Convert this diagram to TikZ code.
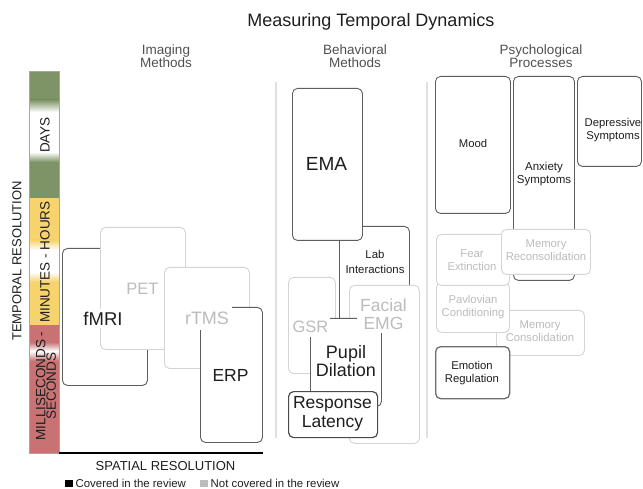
\documentclass[tikz,border=0pt]{standalone}
\usepackage{fontspec}
\setmainfont{Liberation Sans}
\usepackage{tikz}
\usetikzlibrary{positioning}
\usepackage{xcolor}

\definecolor{textdark}{HTML}{1E1E1E}
\definecolor{headgray}{HTML}{505050}
\definecolor{lighttext}{HTML}{BCBCBC}
\definecolor{boxdark}{HTML}{5E5E5E}
\definecolor{boxlight}{HTML}{D4D4D4}
\definecolor{sepline}{HTML}{E0E0E0}
\definecolor{bargreen}{HTML}{7F9466}
\definecolor{baryellow}{HTML}{F7D36E}
\definecolor{barred}{HTML}{C87273}

\newcommand{\setsize}[2]{\fontsize{#1}{#2}\selectfont}

\begin{document}
\begin{tikzpicture}[x=1pt,y=-1pt,
  darkbox/.style={draw=boxdark, line width=0.9pt, fill=white, rounded corners=5pt,
    inner sep=0pt, anchor=north west},
  lightbox/.style={draw=boxlight, line width=0.9pt, fill=white, rounded corners=5pt,
    inner sep=0pt, anchor=north west},
  biglabel/.style={font=\setsize{17.5}{18.5}, align=center, text=textdark, inner sep=1pt},
  smalllabel/.style={font=\setsize{11.3}{12.8}, align=center, text=textdark, inner sep=1pt},
  faded/.style={text=lighttext},
  hide/.style={fill=white},
  head/.style={font=\setsize{13.5}{13.3}, align=center, text=headgray},
  axislabel/.style={font=\setsize{13}{15}, text=textdark},
  barlabel/.style={font=\setsize{13.5}{10.5}, align=center, text=textdark, rotate=90},
  legendsq/.style={minimum size=7.5pt, inner sep=0pt},
  legendtext/.style={font=\setsize{11.4}{13}, text=textdark, inner sep=0pt}]
  \useasboundingbox (0,0) rectangle (643,489);

  % titles
  \node[font=\setsize{18}{20}, text=textdark] (title) at (371,22) {Measuring Temporal Dynamics};
  \node[head] (imghead) at (166,56.5) {Imaging\\Methods};
  \node[head] (behhead) at (355,56.5) {Behavioral\\Methods};
  \node[head] (psyhead) at (541,56.5) {Psychological\\Processes};

  % column separators
  \draw[sepline, line width=1.1pt] (276,82) -- (276,438);
  \draw[sepline, line width=1.1pt] (427,82) -- (427,438);

  % time scale bar
  \fill[bargreen] (29,71) rectangle (59,100);
  \shade[top color=bargreen, bottom color=white] (29,100) rectangle (59,112);
  \shade[top color=white, bottom color=bargreen] (29,152) rectangle (59,162);
  \fill[bargreen] (29,162) rectangle (59,198);
  \fill[baryellow] (29,198) rectangle (59,240);
  \shade[top color=baryellow, bottom color=white] (29,240) rectangle (59,250);
  \shade[top color=white, bottom color=baryellow] (29,272) rectangle (59,282);
  \fill[baryellow] (29,282) rectangle (59,325);
  \fill[barred] (29,325) rectangle (59,342);
  \shade[top color=barred, bottom color=white] (29,342) rectangle (59,351);
  \shade[top color=white, bottom color=barred] (29,351) rectangle (59,361);
  \fill[barred] (29,361) rectangle (59,453);
  \draw[gray!70, line width=0.6pt] (29,71) rectangle (59,453);
  \node[barlabel] (days) at (45,135) {DAYS};
  \node[barlabel] (minhrs) at (45,262) {MINUTES - HOURS};
  \node[barlabel] (msec) at (46,386) {MILLISECONDS -\\SECONDS};

  % axes
  \node[axislabel, rotate=90] (tempres) at (17,261) {TEMPORAL RESOLUTION};
  \draw[line width=2pt] (59,452.5) -- (263,452.5);
  \node[axislabel] (spatres) at (165.5,466) {SPATIAL RESOLUTION};

  % imaging methods
  \node[darkbox, minimum width=85, minimum height=137] (fmri) at (62,248) {};
  \node[lightbox, minimum width=85, minimum height=122] (pet) at (100,227) {};
  \node[lightbox, minimum width=85, minimum height=101] (rtms) at (164,267) {};
  \node[darkbox, minimum width=62, minimum height=135] (erp) at (200,307) {};

  % behavioral methods
  \node[darkbox, minimum width=70, minimum height=134] (lab) at (339,226) {};
  \node[darkbox, minimum width=70, minimum height=152] (ema) at (292,88) {};
  \node[lightbox, minimum width=47, minimum height=96] (gsr) at (288,277) {};
  \node[lightbox, minimum width=70, minimum height=158] (emg) at (349,285) {};
  \node[darkbox, minimum width=71, minimum height=88] (pupil) at (310,318) {};
  \node[darkbox, line width=1.2pt, draw=textdark!80, minimum width=89, minimum height=46] (resp) at (288,391) {};

  % psychological processes
  \node[darkbox, minimum width=75, minimum height=137] (mood) at (435,76) {};
  \node[darkbox, minimum width=61, minimum height=204] (anx) at (513,76) {};
  \node[darkbox, minimum width=64, minimum height=90] (depr) at (577,76) {};
  \node[lightbox, minimum width=88, minimum height=45] (memcons) at (496,310) {};
  \node[lightbox, minimum width=73, minimum height=50] (pavl) at (436,282) {};
  \node[lightbox, minimum width=73, minimum height=51] (fear) at (436,234) {};
  \node[lightbox, minimum width=89, minimum height=45] (memrec) at (501,229) {};
  \node[darkbox, line width=1.3pt, draw=boxdark!90, minimum width=74, minimum height=52] (emot) at (435,346) {};

  % labels
  \node[biglabel, hide, inner sep=3pt, font=\setsize{18.5}{19}] (fmrilabel) at (103,318.5) {fMRI};
  \node[biglabel, faded, font=\setsize{16.5}{18}] (petlabel) at (142.5,289) {PET};
  \node[biglabel, faded, hide, inner xsep=3pt, inner ysep=6pt, font=\setsize{18}{19}] (rtmslabel) at (207,318) {rTMS};
  \node[biglabel] (erplabel) at (230.5,375) {ERP};
  \node[biglabel, font=\setsize{19}{20}] (emalabel) at (326.5,163.5) {EMA};
  \node[smalllabel, font=\setsize{11.4}{14.5}] (lablabel) at (375,262) {Lab\\Interactions};
  \node[biglabel, faded, hide, inner xsep=2pt, inner ysep=5pt, font=\setsize{16.5}{18}] (gsrlabel) at (310.5,326.5) {GSR};
  \node[biglabel, faded, hide, inner xsep=3pt, inner ysep=4pt, font=\setsize{17.5}{18}] (emglabel) at (383.5,314) {Facial\\EMG};
  \node[biglabel, font=\setsize{18}{18}] (pupillabel) at (346,361) {Pupil\\Dilation};
  \node[biglabel, font=\setsize{17.5}{19}] (resplabel) at (332.5,414) {Response\\Latency};
  \node[smalllabel] (moodlabel) at (473,143) {Mood};
  \node[smalllabel, font=\setsize{11.5}{13}] (anxlabel) at (544,174.5) {Anxiety\\Symptoms};
  \node[smalllabel, font=\setsize{11.3}{13}] (deprlabel) at (613,130.5) {Depressive\\Symptoms};
  \node[smalllabel, faded] (fearlabel) at (472,260) {Fear\\Extinction};
  \node[smalllabel, faded] (memreclabel) at (546,250.5) {Memory\\Reconsolidation};
  \node[smalllabel, faded] (pavllabel) at (473,307) {Pavlovian\\Conditioning};
  \node[smalllabel, faded] (memconslabel) at (540,331.5) {Memory\\Consolidation};
  \node[smalllabel] (emotlabel) at (472,373) {Emotion\\Regulation};

  % legend
  \node[legendsq, fill=black] (covsq) at (69,483.5) {};
  \node[legendtext, right=2.5pt of covsq] (covtext) {Covered in the review};
  \node[legendsq, fill=lighttext, right=14pt of covtext] (notsq) {};
  \node[legendtext, right=2.5pt of notsq] (nottext) {Not covered in the review};
\end{tikzpicture}
\end{document}
